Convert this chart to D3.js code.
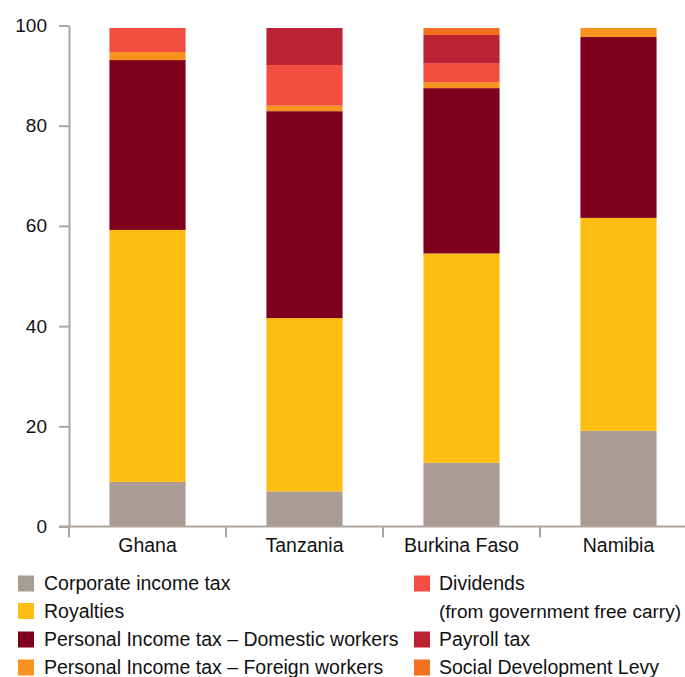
<!DOCTYPE html>
<html>
<head>
<meta charset="utf-8">
<script src="https://cdn.jsdelivr.net/npm/d3@7"></script>
<style>
  html, body { margin: 0; padding: 0; background: #fff; }
  svg { display: block; font-family: "Liberation Sans", Arial, Helvetica, sans-serif; }
</style>
</head>
<body>
<svg id="chart" width="685" height="677"></svg>
<script>
// Share of government revenue by instrument, per country (%)
const countries = ["Ghana", "Tanzania", "Burkina Faso", "Namibia"];

const seriesNames = [
  "Corporate income tax",
  "Royalties",
  "Personal Income tax – Domestic workers",
  "Personal Income tax – Foreign workers",
  "Dividends",
  "Payroll tax",
  "Social Development Levy"
];

const corporateIncomeTax = [8.9, 7.0, 12.7, 19.1];
const royalties          = [50.3, 34.6, 41.8, 42.5];
const pitDomestic        = [33.9, 41.3, 33.0, 36.1];
const pitForeign         = [1.6, 1.1, 1.2, 1.8];
const dividends          = [4.8, 8.1, 3.8, 0];
const payrollTax         = [0, 7.4, 5.6, 0];
const socialDevLevy      = [0, 0, 1.4, 0];

const yTicks = [0, 20, 40, 60, 80, 100];

const colors = ["#a89c94", "#fdbd12", "#7f001c", "#f7931e", "#f24e42", "#bb2335", "#f47021"];

const seriesValues = [corporateIncomeTax, royalties, pitDomestic, pitForeign, dividends, payrollTax, socialDevLevy];

// rows for d3.stack
const rows = countries.map((c, i) => {
  const r = { country: c };
  seriesNames.forEach((s, k) => { r[s] = seriesValues[k][i]; });
  return r;
});
const stacked = d3.stack().keys(seriesNames)(rows);

const svg = d3.select("#chart");
const width = +svg.attr("width");
const axisColor = "#afa59d";

const x = d3.scaleBand().domain(countries).range([69, 697]).padding(0);
const y = d3.scaleLinear().domain([0, 100]).range([526.5, 25.5]);
const barW = x.bandwidth() * 0.485;

// bars
svg.append("g").selectAll("g")
  .data(stacked)
  .join("g")
  .attr("fill", (d, i) => colors[i])
  .selectAll("rect")
  .data(d => d.filter(p => p[1] - p[0] > 0))
  .join("rect")
  .attr("x", d => x(d.data.country) + (x.bandwidth() - barW) / 2)
  .attr("width", barW)
  .attr("y", d => y(d[1]))
  .attr("height", d => y(d[0]) - y(d[1]));

// y axis
const yAxis = svg.append("g")
  .attr("transform", "translate(69,0)")
  .call(d3.axisLeft(y).tickValues(yTicks).tickSize(10).tickSizeOuter(0).tickPadding(12));
yAxis.select(".domain").attr("stroke", axisColor).attr("stroke-width", 2);
yAxis.selectAll(".tick line").attr("stroke", axisColor).attr("stroke-width", 2);
yAxis.selectAll(".tick text")
  .attr("fill", "#111")
  .attr("font-size", 19)
  .attr("font-family", "Liberation Sans, Arial, sans-serif");

// x axis with ticks at band boundaries
const xAxisG = svg.append("g").attr("transform", `translate(0,${y(0)})`);
xAxisG.append("line")
  .attr("x1", 59).attr("x2", 697)
  .attr("stroke", axisColor).attr("stroke-width", 2);
const bounds = countries.map(c => x(c)).concat([x.range()[1]]);
xAxisG.selectAll("line.tk")
  .data(bounds)
  .join("line")
  .attr("class", "tk")
  .attr("x1", d => d).attr("x2", d => d)
  .attr("y1", 0).attr("y2", 11)
  .attr("stroke", axisColor).attr("stroke-width", 2);
xAxisG.selectAll("text")
  .data(countries)
  .join("text")
  .attr("x", d => x(d) + x.bandwidth() / 2)
  .attr("y", 25.5)
  .attr("text-anchor", "middle")
  .attr("fill", "#111")
  .attr("font-size", 19.5)
  .text(d => d);

// legend
const legendItems = [
  { name: seriesNames[0], lines: ["Corporate income tax"], col: 0, row: 0 },
  { name: seriesNames[1], lines: ["Royalties"], col: 0, row: 1 },
  { name: seriesNames[2], lines: ["Personal Income tax – Domestic workers"], col: 0, row: 2 },
  { name: seriesNames[3], lines: ["Personal Income tax – Foreign workers"], col: 0, row: 3 },
  { name: seriesNames[4], lines: ["Dividends", "(from government free carry)"], col: 1, row: 0 },
  { name: seriesNames[5], lines: ["Payroll tax"], col: 1, row: 2 },
  { name: seriesNames[6], lines: ["Social Development Levy"], col: 1, row: 3 }
];
const colSquareX = [18, 414];
const colTextX = [44, 439];
const rowBase = [590, 617.5, 646, 674];
const legendFont = 19.5;

const lg = svg.append("g").selectAll("g")
  .data(legendItems)
  .join("g");
lg.append("rect")
  .attr("x", d => colSquareX[d.col])
  .attr("y", d => rowBase[d.row] - 14.5)
  .attr("width", 16).attr("height", 16)
  .attr("fill", d => colors[seriesNames.indexOf(d.name)]);
lg.each(function (d) {
  d3.select(this).selectAll("text")
    .data(d.lines)
    .join("text")
    .attr("x", colTextX[d.col])
    .attr("y", (t, i) => rowBase[d.row + i])
    .attr("fill", "#111")
    .attr("font-size", legendFont)
    .text(t => t)
    .each(function () {
      // shrink long labels so they stay inside the canvas
      const room = width - 4 - colTextX[d.col];
      const len = this.getComputedTextLength();
      if (len > room) {
        d3.select(this).attr("font-size", (legendFont * room / len).toFixed(2));
      }
    });
});
</script>
</body>
</html>
